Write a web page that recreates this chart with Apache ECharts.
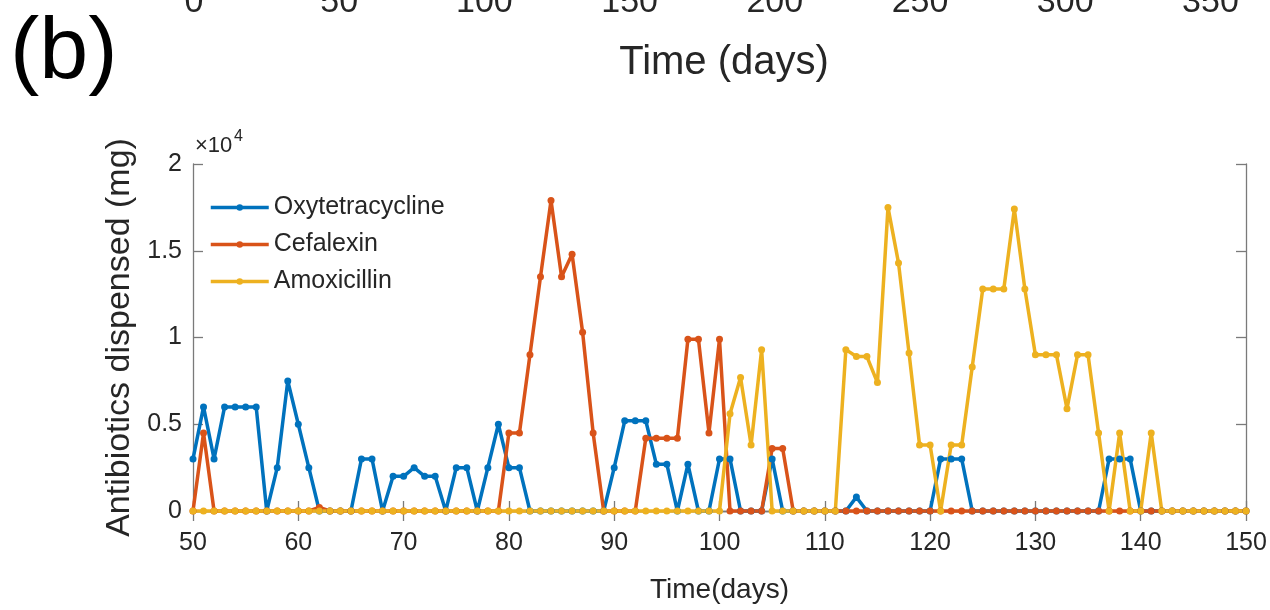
<!DOCTYPE html>
<html>
<head>
<meta charset="utf-8">
<script src="https://cdn.jsdelivr.net/npm/echarts@6/dist/echarts.min.js"></script>
<style>
  html, body { margin: 0; padding: 0; background: #fff; }
  #chart { width: 1270px; height: 610px; }
</style>
</head>
<body>
<div id="chart"></div>
<script>
// days 50..150, one value per day
const days = Array.from({ length: 101 }, (_, i) => 50 + i)

const oxytetracycline = [
  3000, 6000, 3000, 6000, 6000, 6000, 6000, 0, 2500, 7500,
  5000, 2500, 0, 0, 0, 0, 3000, 3000, 0, 2000,
  2000, 2500, 2000, 2000, 0, 2500, 2500, 0, 2500, 5000,
  2500, 2500, 0, 0, 0, 0, 0, 0, 0, 0,
  2500, 5200, 5200, 5200, 2700, 2700, 0, 2700, 0, 0,
  3000, 3000, 0, 0, 0, 3000, 0, 0, 0, 0,
  0, 0, 0, 800, 0, 0, 0, 0, 0, 0,
  0, 3000, 3000, 3000, 0, 0, 0, 0, 0, 0,
  0, 0, 0, 0, 0, 0, 0, 3000, 3000, 3000,
  0, 0, 0, 0, 0, 0, 0, 0, 0, 0,
  0
]

const cefalexin = [
  0, 4500, 0, 0, 0, 0, 0, 0, 0, 0,
  0, 0, 200, 0, 0, 0, 0, 0, 0, 0,
  0, 0, 0, 0, 0, 0, 0, 0, 0, 0,
  4500, 4500, 9000, 13500, 17900, 13500, 14800, 10300, 4500, 0,
  0, 0, 0, 4200, 4200, 4200, 4200, 9900, 9900, 4500,
  9900, 0, 0, 0, 0, 3600, 3600, 0, 0, 0,
  0, 0, 0, 0, 0, 0, 0, 0, 0, 0,
  0, 0, 0, 0, 0, 0, 0, 0, 0, 0,
  0, 0, 0, 0, 0, 0, 0, 0, 0, 0,
  0, 0, 0, 0, 0, 0, 0, 0, 0, 0,
  0
]

const amoxicillin = [
  0, 0, 0, 0, 0, 0, 0, 0, 0, 0,
  0, 0, 0, 0, 0, 0, 0, 0, 0, 0,
  0, 0, 0, 0, 0, 0, 0, 0, 0, 0,
  0, 0, 0, 0, 0, 0, 0, 0, 0, 0,
  0, 0, 0, 0, 0, 0, 0, 0, 0, 0,
  0, 5600, 7700, 3800, 9300, 0, 0, 0, 0, 0,
  0, 0, 9300, 8900, 8900, 7400, 17500, 14300, 9100, 3800,
  3800, 0, 3800, 3800, 8300, 12800, 12800, 12800, 17400, 12800,
  9000, 9000, 9000, 5900, 9000, 9000, 4500, 0, 4500, 0,
  0, 4500, 0, 0, 0, 0, 0, 0, 0, 0,
  0
]

const seriesNames = ['Oxytetracycline', 'Cefalexin', 'Amoxicillin']
const seriesColors = ['#0072BD', '#D95319', '#EDB120']
const seriesValues = [oxytetracycline, cefalexin, amoxicillin]

// tick labels of the panel above (only its bottom edge is in view)
const upperTicks = [0, 50, 100, 150, 200, 250, 300, 350]

const font = 'Liberation Sans, Arial, Helvetica, sans-serif'
const axisGray = '#7a7a7a'
const textGray = '#262626'

const myChart = echarts.init(document.getElementById('chart'))

const boxAxis = {
  axisLine: { show: true, lineStyle: { color: axisGray, width: 1.3 } },
  axisTick: { show: true, inside: true, length: 10, lineStyle: { color: axisGray, width: 1.3 } },
  splitLine: { show: false }
}

myChart.setOption({
  animation: false,
  backgroundColor: '#fff',
  textStyle: { fontFamily: font },
  grid: [
    { left: 193, right: 24, top: 164, bottom: 99 },
    { left: 194, width: 1060, top: -60, height: 40 }
  ],
  legend: {
    orient: 'vertical',
    left: 204,
    top: 190,
    itemWidth: 58,
    itemHeight: 8,
    itemGap: 12,
    data: seriesNames,
    lineStyle: { width: 3.5 },
    textStyle: { fontSize: 25, color: textGray, fontFamily: font }
  },
  xAxis: [
    Object.assign({}, boxAxis, {
      type: 'value', gridIndex: 0, min: 50, max: 150, interval: 10,
      name: 'Time(days)', nameLocation: 'middle', nameGap: 65,
      nameTextStyle: { fontSize: 28, color: textGray },
      axisLabel: { fontSize: 25, color: textGray, margin: 20 }
    }),
    Object.assign({}, boxAxis, {
      type: 'value', gridIndex: 0, position: 'top', min: 50, max: 150, interval: 10,
      axisLabel: { show: false }
    }),
    {
      type: 'value', gridIndex: 1, min: 0, max: 365, interval: 50,
      axisLine: { show: false }, axisTick: { show: false }, splitLine: { show: false },
      name: 'Time (days)', nameLocation: 'middle', nameGap: 53,
      nameTextStyle: { fontSize: 40, color: textGray },
      axisLabel: {
        fontSize: 34, color: textGray, margin: -4, showMaxLabel: false,
        formatter: v => (upperTicks.includes(v) ? String(v) : '')
      }
    }
  ],
  yAxis: [
    Object.assign({}, boxAxis, {
      type: 'value', gridIndex: 0, min: 0, max: 20000, interval: 5000,
      name: 'Antibiotics dispensed (mg)', nameLocation: 'middle', nameGap: 52,
      nameTextStyle: { fontSize: 34, color: textGray },
      axisLabel: { fontSize: 25, color: textGray, margin: 11, formatter: v => String(v / 10000) }
    }),
    Object.assign({}, boxAxis, {
      type: 'value', gridIndex: 0, position: 'right', min: 0, max: 20000, interval: 5000,
      axisLabel: { show: false }
    }),
    { type: 'value', gridIndex: 1, show: false, min: 0, max: 1 }
  ],
  graphic: [
    { type: 'text', left: 10, top: 10, style: { text: '(b)', fontSize: 88, fontFamily: font, fill: '#000' } },
    { type: 'text', left: 195, top: 135, style: { text: '×10', fontSize: 22, fontFamily: font, fill: textGray } },
    { type: 'text', left: 234, top: 129, style: { text: '4', fontSize: 16, fontFamily: font, fill: textGray } }
  ],
  series: seriesNames.map((name, k) => ({
    name: name,
    type: 'line',
    xAxisIndex: 0,
    yAxisIndex: 0,
    data: days.map((d, i) => [d, seriesValues[k][i]]),
    symbol: 'circle',
    symbolSize: 7,
    showSymbol: true,
    clip: false,
    color: seriesColors[k],
    lineStyle: { width: 3.5, color: seriesColors[k] },
    itemStyle: { color: seriesColors[k] }
  }))
})
</script>
</body>
</html>
